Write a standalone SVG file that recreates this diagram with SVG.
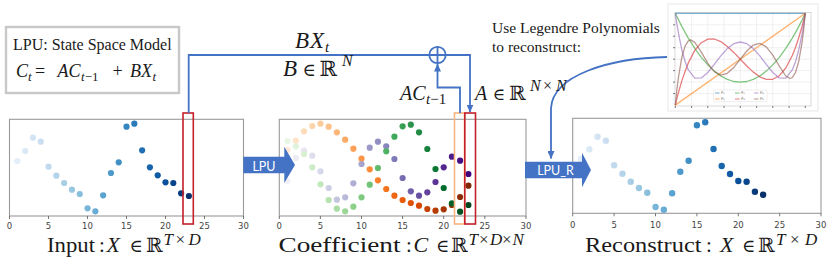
<svg xmlns="http://www.w3.org/2000/svg" width="831" height="263" viewBox="0 0 831 263">
<style>
.serif{font-family:"Liberation Serif","DejaVu Serif",serif;fill:#1a1a1a}
.it{font-style:italic}
.sym{font-family:"DejaVu Serif",serif;font-style:normal}
.tick{font-family:"DejaVu Sans",sans-serif;font-size:8.5px;fill:#444;text-anchor:middle}
.ticks{stroke:#555;stroke-width:0.8;fill:none}
.axes{fill:#fff;stroke:#9a9a9a;stroke-width:1.1}
.conn{fill:none;stroke:#4472c4;stroke-width:1.8}
.blk{fill:#4472c4}
.lpu{font-family:Lato,"Open Sans",sans-serif;font-size:12.5px;fill:#fff;text-anchor:middle}
.sel-red{fill:none;stroke:#c3202a;stroke-width:1.6}
.sel-org{fill:none;stroke:#f6b483;stroke-width:1.6}
.grid{stroke:#e6e6e6;stroke-width:0.6;fill:none}
.curve{fill:none;stroke-width:1.3;stroke-linejoin:round;opacity:0.6}
.leg{font-family:"DejaVu Sans",sans-serif;font-size:3.6px;fill:#555}
</style>
<defs>
<marker id="arr" markerUnits="userSpaceOnUse" markerWidth="8" markerHeight="7" refX="7.5" refY="3.5" orient="auto">
<path d="M0,0 L8,3.5 L0,7 z" fill="#4472c4"/>
</marker>
<linearGradient id="blues1" gradientUnits="userSpaceOnUse" x1="17.3" y1="0" x2="188.9" y2="0">
<stop offset="0" stop-color="#e3eef9"/><stop offset="0.028" stop-color="#deebf7"/><stop offset="0.167" stop-color="#c6dbef"/><stop offset="0.306" stop-color="#9ecae1"/><stop offset="0.444" stop-color="#6baed6"/><stop offset="0.583" stop-color="#4292c6"/><stop offset="0.722" stop-color="#2171b5"/><stop offset="0.861" stop-color="#08519c"/><stop offset="1" stop-color="#08306b"/>
</linearGradient>
<linearGradient id="blues3" href="#blues1" gradientUnits="userSpaceOnUse" x1="581" y1="0" x2="763.1" y2="0"/>
<linearGradient id="oranges" gradientUnits="userSpaceOnUse" x1="287.5" y1="0" x2="468.4" y2="0">
<stop offset="0" stop-color="#fee9d4"/><stop offset="0.028" stop-color="#fee6ce"/><stop offset="0.167" stop-color="#fdd0a2"/><stop offset="0.306" stop-color="#fdae6b"/><stop offset="0.444" stop-color="#fd8d3c"/><stop offset="0.583" stop-color="#f16913"/><stop offset="0.722" stop-color="#d94801"/><stop offset="0.861" stop-color="#a63603"/><stop offset="1" stop-color="#7f2704"/>
</linearGradient>
<linearGradient id="greens" gradientUnits="userSpaceOnUse" x1="287.5" y1="0" x2="468.4" y2="0">
<stop offset="0" stop-color="#e9f6e4"/><stop offset="0.028" stop-color="#e5f5e0"/><stop offset="0.167" stop-color="#c7e9c0"/><stop offset="0.306" stop-color="#a1d99b"/><stop offset="0.444" stop-color="#74c476"/><stop offset="0.583" stop-color="#41ab5d"/><stop offset="0.722" stop-color="#238b45"/><stop offset="0.861" stop-color="#006d2c"/><stop offset="1" stop-color="#00441b"/>
</linearGradient>
<linearGradient id="purples" gradientUnits="userSpaceOnUse" x1="287.5" y1="0" x2="468.4" y2="0">
<stop offset="0" stop-color="#f2f0f7"/><stop offset="0.028" stop-color="#efedf5"/><stop offset="0.167" stop-color="#dadaeb"/><stop offset="0.306" stop-color="#bcbddc"/><stop offset="0.444" stop-color="#9e9ac8"/><stop offset="0.583" stop-color="#807dba"/><stop offset="0.722" stop-color="#6a51a3"/><stop offset="0.861" stop-color="#54278f"/><stop offset="1" stop-color="#3f007d"/>
</linearGradient>
</defs>

<g id="state-space-box">
<rect x="6" y="27" width="173" height="66" fill="#fff" stroke="#c8c8c8" stroke-width="2.4"/>
<text class="serif" font-size="16" x="13" y="50">LPU: State Space Model</text>
<text class="serif" font-size="18"><tspan x="16" y="77" class="it">C</tspan><tspan x="28" y="80.5" font-size="13" class="it">t</tspan><tspan x="35" y="77">=</tspan><tspan x="57.5" class="it">AC</tspan><tspan x="81" y="80.5" font-size="13" class="it">t</tspan><tspan font-size="13">−1</tspan><tspan x="112.5" y="77">+</tspan><tspan x="130" class="it">BX</tspan><tspan x="152.5" y="80.5" font-size="13" class="it">t</tspan></text>
</g>

<g id="plot-input">
<rect class="axes" x="9.5" y="119.3" width="234" height="96.7"/>
<path class="ticks" d="M9.5,216v3M48.5,216v3M87.5,216v3M126.5,216v3M165.5,216v3M204.5,216v3M243.5,216v3"/>
<text class="tick" y="228.5"><tspan x="9.5">0</tspan><tspan x="48.5">5</tspan><tspan x="87.5">10</tspan><tspan x="126.5">15</tspan><tspan x="165.5">20</tspan><tspan x="204.5">25</tspan><tspan x="243.5">30</tspan></text>
<g fill="url(#blues1)">
<circle cx="17.3" cy="161" r="3.1"/><circle cx="25.1" cy="151" r="3.1"/><circle cx="32.9" cy="137.7" r="3.1"/><circle cx="40.7" cy="141.7" r="3.1"/><circle cx="48.5" cy="166.7" r="3.1"/><circle cx="56.3" cy="175.7" r="3.1"/><circle cx="64.1" cy="183" r="3.1"/><circle cx="71.9" cy="189.7" r="3.1"/><circle cx="79.7" cy="194" r="3.1"/><circle cx="87.5" cy="208.3" r="3.1"/><circle cx="95.3" cy="211.3" r="3.1"/><circle cx="103.1" cy="195.3" r="3.1"/><circle cx="110.9" cy="173" r="3.1"/><circle cx="118.7" cy="162.3" r="3.1"/><circle cx="126.5" cy="126.7" r="3.1"/><circle cx="134.3" cy="123.7" r="3.1"/><circle cx="142.1" cy="150.3" r="3.1"/><circle cx="149.9" cy="167.3" r="3.1"/><circle cx="157.7" cy="175.3" r="3.1"/><circle cx="165.5" cy="182.3" r="3.1"/><circle cx="173.3" cy="183" r="3.1"/><circle cx="181.1" cy="193.3" r="3.1"/><circle cx="188.9" cy="196" r="3.1"/>
</g>
<rect class="sel-red" x="183" y="113" width="10.3" height="111"/>
</g>

<g id="plot-coefficient">
<rect class="axes" x="279.3" y="119.3" width="246.7" height="96.7"/>
<path class="ticks" d="M279.3,216v3M320.4,216v3M361.5,216v3M402.6,216v3M443.7,216v3M484.8,216v3M526,216v3"/>
<text class="tick" y="228.5"><tspan x="279.3">0</tspan><tspan x="320.4">5</tspan><tspan x="361.5">10</tspan><tspan x="402.6">15</tspan><tspan x="443.7">20</tspan><tspan x="484.8">25</tspan><tspan x="526">30</tspan></text>
<g fill="url(#oranges)">
<circle cx="287.5" cy="150" r="3.1"/><circle cx="295.7" cy="140.7" r="3.1"/><circle cx="304" cy="131.3" r="3.1"/><circle cx="312.2" cy="126" r="3.1"/><circle cx="320.4" cy="123.7" r="3.1"/><circle cx="328.6" cy="126.7" r="3.1"/><circle cx="336.8" cy="132.3" r="3.1"/><circle cx="345.1" cy="139.7" r="3.1"/><circle cx="353.3" cy="148.7" r="3.1"/><circle cx="361.5" cy="158.7" r="3.1"/><circle cx="369.7" cy="169.3" r="3.1"/><circle cx="377.9" cy="180.3" r="3.1"/><circle cx="386.2" cy="189" r="3.1"/><circle cx="394.4" cy="195.7" r="3.1"/><circle cx="402.6" cy="200" r="3.1"/><circle cx="410.8" cy="203" r="3.1"/><circle cx="419" cy="205.7" r="3.1"/><circle cx="427.3" cy="209" r="3.1"/><circle cx="435.5" cy="210.7" r="3.1"/><circle cx="443.7" cy="209.3" r="3.1"/><circle cx="451.9" cy="205" r="3.1"/><circle cx="460.1" cy="197" r="3.1"/><circle cx="468.4" cy="185.7" r="3.1"/>
</g>
<g fill="url(#purples)">
<circle cx="287.5" cy="181" r="3.1"/><circle cx="295.7" cy="158" r="3.1"/><circle cx="304" cy="150.7" r="3.1"/><circle cx="312.2" cy="155.7" r="3.1"/><circle cx="320.4" cy="171.3" r="3.1"/><circle cx="328.6" cy="188" r="3.1"/><circle cx="336.8" cy="199.7" r="3.1"/><circle cx="345.1" cy="197.3" r="3.1"/><circle cx="353.3" cy="183.3" r="3.1"/><circle cx="361.5" cy="164" r="3.1"/><circle cx="369.7" cy="147.7" r="3.1"/><circle cx="377.9" cy="141.7" r="3.1"/><circle cx="386.2" cy="146.3" r="3.1"/><circle cx="394.4" cy="159" r="3.1"/><circle cx="402.6" cy="178" r="3.1"/><circle cx="410.8" cy="191.3" r="3.1"/><circle cx="419" cy="195.7" r="3.1"/><circle cx="427.3" cy="192.3" r="3.1"/><circle cx="435.5" cy="182" r="3.1"/><circle cx="443.7" cy="167.3" r="3.1"/><circle cx="451.9" cy="156.7" r="3.1"/><circle cx="460.1" cy="160.7" r="3.1"/><circle cx="468.4" cy="174" r="3.1"/>
</g>
<g fill="url(#greens)">
<circle cx="287.5" cy="141" r="3.1"/><circle cx="295.7" cy="146.3" r="3.1"/><circle cx="304" cy="154" r="3.1"/><circle cx="312.2" cy="167.3" r="3.1"/><circle cx="320.4" cy="184.3" r="3.1"/><circle cx="328.6" cy="200" r="3.1"/><circle cx="336.8" cy="208.7" r="3.1"/><circle cx="345.1" cy="211.3" r="3.1"/><circle cx="353.3" cy="206.7" r="3.1"/><circle cx="361.5" cy="197.3" r="3.1"/><circle cx="369.7" cy="184.7" r="3.1"/><circle cx="377.9" cy="168" r="3.1"/><circle cx="386.2" cy="151.3" r="3.1"/><circle cx="394.4" cy="136.7" r="3.1"/><circle cx="402.6" cy="126.3" r="3.1"/><circle cx="410.8" cy="124.7" r="3.1"/><circle cx="419" cy="132.3" r="3.1"/><circle cx="427.3" cy="149" r="3.1"/><circle cx="435.5" cy="169" r="3.1"/><circle cx="443.7" cy="188" r="3.1"/><circle cx="451.9" cy="203.3" r="3.1"/><circle cx="460.1" cy="211.7" r="3.1"/><circle cx="468.4" cy="205" r="3.1"/>
</g>
<rect class="sel-org" x="454.5" y="113" width="10" height="111"/>
<rect class="sel-red" x="464.8" y="113" width="10.7" height="111"/>
</g>

<g id="plot-reconstruct">
<rect class="axes" x="572.7" y="118.3" width="248.3" height="95"/>
<path class="ticks" d="M572.7,213.3v3M614.1,213.3v3M655.5,213.3v3M696.9,213.3v3M738.3,213.3v3M779.7,213.3v3M821,213.3v3"/>
<text class="tick" y="228"><tspan x="572.7">0</tspan><tspan x="614.1">5</tspan><tspan x="655.5">10</tspan><tspan x="696.9">15</tspan><tspan x="738.3">20</tspan><tspan x="779.7">25</tspan><tspan x="821">30</tspan></text>
<g fill="url(#blues3)">
<circle cx="581" cy="159" r="3.2"/><circle cx="589.3" cy="149.3" r="3.2"/><circle cx="597.5" cy="136.7" r="3.2"/><circle cx="605.8" cy="140.7" r="3.2"/><circle cx="614.1" cy="165.3" r="3.2"/><circle cx="622.4" cy="173.7" r="3.2"/><circle cx="630.7" cy="181.7" r="3.2"/><circle cx="638.9" cy="188" r="3.2"/><circle cx="647.2" cy="192.7" r="3.2"/><circle cx="655.5" cy="207" r="3.2"/><circle cx="663.8" cy="209.7" r="3.2"/><circle cx="672.1" cy="193.3" r="3.2"/><circle cx="680.3" cy="171.7" r="3.2"/><circle cx="688.6" cy="160.7" r="3.2"/><circle cx="696.9" cy="125.3" r="3.2"/><circle cx="705.2" cy="122.3" r="3.2"/><circle cx="713.5" cy="149" r="3.2"/><circle cx="721.7" cy="166" r="3.2"/><circle cx="730" cy="174" r="3.2"/><circle cx="738.3" cy="181" r="3.2"/><circle cx="746.6" cy="181.7" r="3.2"/><circle cx="754.9" cy="191.7" r="3.2"/><circle cx="763.1" cy="194.7" r="3.2"/>
</g>
</g>

<g id="legendre-figure">
<rect x="668" y="4" width="150" height="107" fill="#fff" stroke="#e2e2e2" stroke-width="0.8"/>
<path class="grid" d="M691.6,13.3V105.1M707.8,13.3V105.1M724.1,13.3V105.1M740.3,13.3V105.1M756.6,13.3V105.1M772.8,13.3V105.1M789.1,13.3V105.1M675.3,24.8H811M675.3,36.2H811M675.3,47.7H811M675.3,59.2H811M675.3,70.6H811M675.3,82.1H811M675.3,93.6H811"/>
<rect x="675" y="12.5" width="136" height="93.5" fill="none" stroke="#cfcfcf" stroke-width="0.8"/>
<path class="ticks" stroke="#999" d="M675.3,106v2M691.6,106v2M707.8,106v2M724.1,106v2M740.3,106v2M756.6,106v2M772.8,106v2M789.1,106v2M805.3,106v2M673,24.8h2M673,36.2h2M673,47.7h2M673,59.2h2M673,70.6h2M673,82.1h2M673,93.6h2"/>
<polyline class="curve" stroke="#1f77b4" points="675.3,13.3 805.3,13.3"/>
<polyline class="curve" stroke="#ff7f0e" points="675.3,105.1 805.3,13.3"/>
<polyline class="curve" stroke="#2ca02c" points="675.3,13.3 678.6,20 681.8,26.4 685.1,32.4 688.3,38.1 694.8,48.4 701.3,57.4 707.8,64.9 714.3,71.1 720.8,76 727.3,79.4 733.8,81.5 740.3,82.2 746.8,81.5 753.3,79.4 759.8,76 766.3,71.1 772.8,64.9 779.3,57.4 785.8,48.4 792.3,38.1 795.6,32.4 798.8,26.4 802.1,20 805.3,13.3"/>
<polyline class="curve" stroke="#d62728" points="675.3,105.1 676.9,98.4 678.6,92.2 681.8,80.9 685.1,71.2 688.3,62.9 694.8,50.4 701.3,42.7 707.8,39.1 714.3,39 720.8,41.6 727.3,46.4 733.8,52.4 740.3,59.2 746.8,66 753.3,72.1 759.8,76.8 766.3,79.4 772.8,79.3 779.3,75.7 785.8,68 792.3,55.5 795.6,47.3 798.8,37.5 802.1,26.2 803.7,20 805.3,13.3"/>
<polyline class="curve" stroke="#9467bd" points="675.3,13.3 676.9,24.1 678.6,33.8 681.8,49.7 685.1,61.5 688.3,69.9 694.8,78.1 701.3,77.9 707.8,72.5 714.3,64.4 720.8,55.9 727.3,48.6 733.8,43.7 740.3,42 746.8,43.7 753.3,48.6 759.8,55.9 766.3,64.4 772.8,72.5 779.3,77.9 785.8,78.1 792.3,69.9 795.6,61.5 798.8,49.7 802.1,33.8 803.7,24.1 805.3,13.3"/>
<polyline class="curve" stroke="#8c564b" points="675.3,105.1 676.9,89.3 678.6,76.3 681.8,57.3 685.1,46.1 688.3,40.9 690.6,39.9 694.8,42.4 701.3,52.2 707.8,63.3 714.3,71.6 720.8,75.1 727.3,73.3 733.8,67.4 740.3,59.2 746.8,51 753.3,45.1 759.8,43.4 766.3,46.8 772.8,55.1 779.3,66.2 785.8,76 790,78.5 792.3,77.5 795.6,72.3 798.8,61.1 802.1,42.1 803.7,29.1 805.3,13.3"/>
<rect x="713.5" y="90" width="53.5" height="11.7" rx="1" fill="#fff" fill-opacity="0.85" stroke="#ddd" stroke-width="0.5"/>
<g stroke-width="1" opacity="0.6">
<path d="M715,93h4.5" stroke="#1f77b4"/><path d="M735,93h4.5" stroke="#2ca02c"/><path d="M754,93h4.5" stroke="#9467bd"/>
<path d="M715,99h4.5" stroke="#ff7f0e"/><path d="M735,99h4.5" stroke="#d62728"/><path d="M754,99h4.5" stroke="#8c564b"/>
</g>
<text class="leg"><tspan x="721" y="94.3">P₀</tspan><tspan x="741" y="94.3">P₂</tspan><tspan x="760" y="94.3">P₄</tspan><tspan x="721" y="100.3">P₁</tspan><tspan x="741" y="100.3">P₃</tspan><tspan x="760" y="100.3">P₅</tspan></text>
</g>

<g id="arrow-lpu">
<polygon class="blk" points="243.3,156.7 284.3,156.7 284.3,146.7 295,165 284.3,183 284.3,173.3 243.3,173.3"/>
<text class="lpu" x="264" y="170.5">LPU</text>
</g>

<g id="arrow-lpu-r">
<polygon class="blk" points="525,161.7 582,161.7 582,152.7 591,170 582,187.3 582,178.3 525,178.3"/>
<text class="lpu" x="555.5" y="175">LPU_R</text>
</g>

<g id="connectors">
<path class="conn" d="M188.7,113V55H470V112" marker-end="url(#arr)"/>
<path class="conn" d="M460,113V87.5H437.5V64" marker-end="url(#arr)"/>
<path class="conn" d="M667,57C610,58 553,75 551,108V158.5" marker-end="url(#arr)"/>
</g>

<g id="sum-node">
<circle cx="437.5" cy="55" r="8.2" fill="#fff" stroke="#4472c4" stroke-width="1.8"/>
<path d="M429.3,55H445.7M437.5,46.8V63.2" stroke="#4472c4" stroke-width="1.8"/>
</g>

<g id="labels">
<text class="serif it" font-size="23"><tspan x="295" y="48">B</tspan><tspan x="310">X</tspan><tspan x="325" y="52" font-size="15">t</tspan></text>
<text class="serif" font-size="23"><tspan x="283" y="76" class="it">B</tspan><tspan x="302.5" class="sym" font-size="18">∈</tspan><tspan x="319.5" class="sym" font-size="21">ℝ</tspan><tspan x="342" y="66" font-size="16" class="it">N</tspan></text>
<text class="serif" font-size="20"><tspan x="400" y="100" class="it">AC</tspan><tspan x="426" y="104" font-size="15" class="it">t</tspan><tspan font-size="15">−1</tspan></text>
<text class="serif" font-size="20"><tspan x="475" y="100" class="it">A</tspan><tspan x="492.5" class="sym" font-size="17">∈</tspan><tspan x="509" class="sym" font-size="20">ℝ</tspan><tspan x="530" y="91" font-size="16" class="it">N</tspan><tspan x="543" font-size="16">×</tspan><tspan x="556" font-size="16" class="it">N</tspan></text>
<text class="serif" font-size="15.5"><tspan x="492" y="33">Use Legendre Polynomials</tspan><tspan x="492" y="52">to reconstruct:</tspan></text>
<text class="serif" font-size="21"><tspan x="47" y="252" textLength="48" lengthAdjust="spacingAndGlyphs">Input</tspan><tspan x="99">:</tspan><tspan x="106.5" class="it" font-size="22">X</tspan><tspan x="129.5" class="sym" font-size="18">∈</tspan><tspan x="146" class="sym" font-size="20">ℝ</tspan><tspan x="163.5" y="245" font-size="17" class="it">T</tspan><tspan x="175.5" font-size="17">×</tspan><tspan x="188.5" font-size="17" class="it">D</tspan></text>
<text class="serif" font-size="21"><tspan x="278.5" y="252" textLength="122" lengthAdjust="spacingAndGlyphs">Coefficient</tspan><tspan x="406">:</tspan><tspan x="413.5" class="it" font-size="22">C</tspan><tspan x="436" class="sym" font-size="18">∈</tspan><tspan x="451" class="sym" font-size="20">ℝ</tspan><tspan x="468.5" y="245" font-size="17" class="it">T</tspan><tspan x="479" font-size="17">×</tspan><tspan x="490" font-size="17" class="it">D</tspan><tspan x="502" font-size="17">×</tspan><tspan x="512.5" font-size="17" class="it">N</tspan></text>
<text class="serif" font-size="21"><tspan x="585" y="252" textLength="116.5" lengthAdjust="spacingAndGlyphs">Reconstruct</tspan><tspan x="706">:</tspan><tspan x="720" class="it" font-size="22">X</tspan><tspan x="742" class="sym" font-size="18">∈</tspan><tspan x="758" class="sym" font-size="20">ℝ</tspan><tspan x="776" y="245" font-size="17" class="it">T</tspan><tspan x="790" font-size="17">×</tspan><tspan x="805" font-size="17" class="it">D</tspan></text>
</g>
</svg>
